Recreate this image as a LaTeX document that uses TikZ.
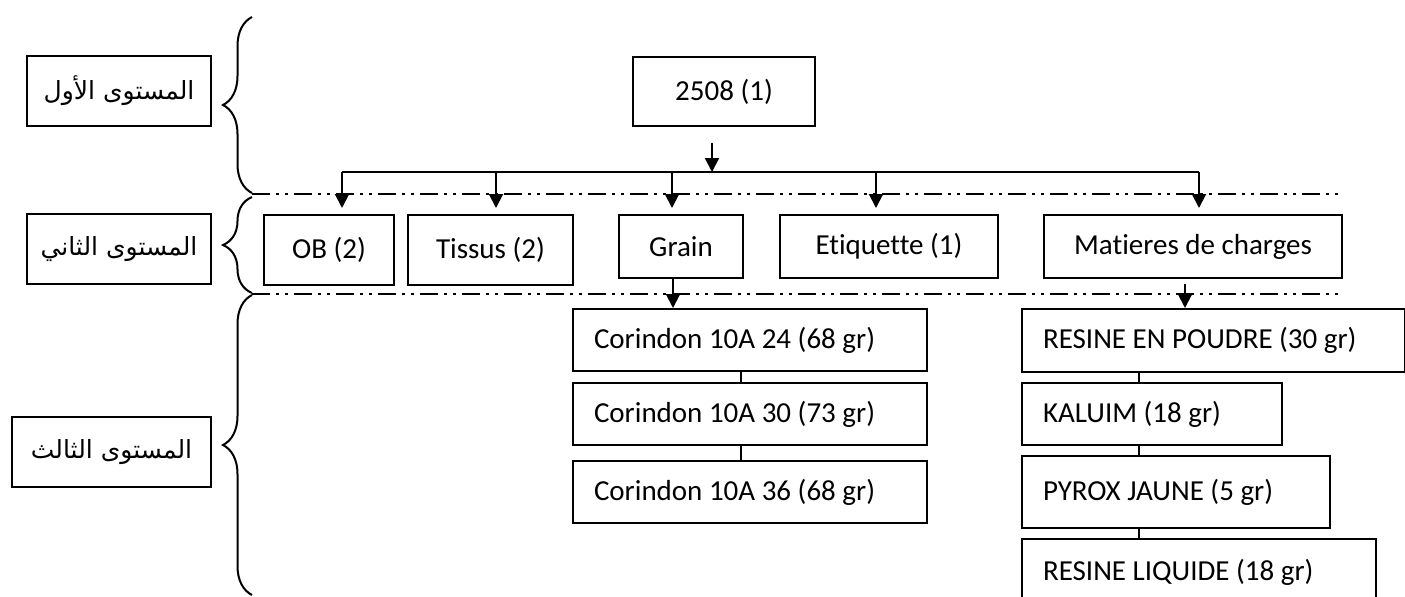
\documentclass[tikz,border=0pt]{standalone}
\usepackage{fontspec}
\setmainfont{Carlito}[Ligatures=NoCommon]
\newfontfamily\arabicfont[Script=Arabic]{DejaVu Sans}
\TeXXeTstate=1
\usetikzlibrary{positioning}
\usetikzlibrary{arrows.meta}
\usetikzlibrary{decorations.pathreplacing}

\begin{document}
\begin{tikzpicture}[
  x=0.5pt, y=-0.5pt,
  font=\fontsize{14.5pt}{17pt}\selectfont,
  box/.style={draw, line width=1pt, inner sep=0pt, align=center},
  stackbox/.style={draw, line width=1pt, inner xsep=10.5pt, inner ysep=0pt, align=flush left, minimum height=31pt},
  level/.style={draw, line width=1pt, inner sep=0pt, minimum height=35pt, font=\arabicfont\fontsize{12.5pt}{14pt}\selectfont},
  arrow/.style={-{Triangle[width=7pt,length=7pt]}, line width=1pt},
  link/.style={line width=0.6pt},
  bracket/.style={decorate, decoration={brace, amplitude=14.5pt}, line width=1pt},
  separator/.style={line width=0.75pt, dash pattern=on 9pt off 3pt on 1.5pt off 3pt on 1.5pt off 3pt}
]
\useasboundingbox (0,0) rectangle (1405,596);

% Levels (left column)
\node[level, minimum width=92pt] (lvl1) at (119,91) {\beginR المستوى الأول\endR};
\node[level, minimum width=92pt] (lvl2) at (119,249) {\beginR المستوى الثاني\endR};
\node[level, minimum width=99.5pt] (lvl3) at (111.5,452) {\beginR المستوى الثالث\endR};

\draw[bracket] (252,193) -- (252,17);
\draw[bracket] (252,293) -- (252,197);
\draw[bracket] (252,595) -- (252,295);

% Level separators
\draw[separator] (252,194) -- (1343,194);
\draw[separator] (252,294) -- (1343,294);

% Top product
\node[box, minimum width=91pt, minimum height=34.5pt] (top) at (724,91.5) {2508 (1)};

% Second level
\node[box, minimum width=65pt, minimum height=35pt, anchor=north west] (ob) at (263,214) {OB (2)};
\node[box, minimum width=82.5pt, minimum height=35pt, right=6pt of ob.north east, anchor=north west] (tissus) {Tissus (2)};
\node[box, minimum width=62pt, minimum height=31.5pt, right=22pt of tissus.north east, anchor=north west] (grain) {Grain};
\node[box, minimum width=109pt, minimum height=31.5pt, right=17.5pt of grain.north east, anchor=north west] (etiq) {Etiquette (1)};
\node[box, minimum width=149pt, minimum height=31.5pt, right=22pt of etiq.north east, anchor=north west] (mat) {Matieres de charges};

% Third level: grain
\node[stackbox, text width=156pt, anchor=north west] (cor1) at (572,308) {Corindon 10A 24 (68 gr)};
\node[stackbox, text width=156pt, below=5pt of cor1] (cor2) {Corindon 10A 30 (73 gr)};
\node[stackbox, text width=156pt, below=7pt of cor2] (cor3) {Corindon 10A 36 (68 gr)};

% Third level: matieres de charges
\node[stackbox, text width=170.5pt, minimum height=31.5pt, anchor=north west] (res1) at (1021,308) {RESINE EN POUDRE (30 gr)};
\node[stackbox, text width=109pt, below=4.5pt of res1.south west, anchor=north west] (res2) {KALUIM (18 gr)};
\node[stackbox, text width=133pt, minimum height=36pt, below=4.5pt of res2.south west, anchor=north west] (res3) {PYROX JAUNE (5 gr)};
\node[stackbox, text width=156pt, minimum height=33pt, below=4.5pt of res3.south west, anchor=north west] (res4) {RESINE LIQUIDE (18 gr)};

% Distribution bus
\coordinate (fork) at (712,172);
\coordinate (b1) at (342,172);
\coordinate (b2) at (496,172);
\coordinate (b3) at (672,172);
\coordinate (b4) at (876,172);
\coordinate (b5) at (1199,172);

\draw[arrow] ([xshift=-6pt, yshift=-8pt]top.south) -- (fork);
\draw[line width=1pt] (b1) -- (b5);
\foreach \b/\n in {b1/ob, b2/tissus, b3/grain, b4/etiq, b5/mat}
  \draw[arrow, shorten >=3pt] (\b) -- (\b |- \n.north);

\draw[arrow] ([xshift=-4pt]grain.south) -- ([xshift=-4pt]grain.south |- cor1.north);
\draw[arrow, shorten <=2.5pt] ([xshift=-4pt]mat.south) -- ([xshift=-4pt]mat.south |- res1.north);

% Stack links
\draw[link] ([xshift=84.5pt]cor1.south west) -- ([xshift=84.5pt]cor2.north west);
\draw[link] ([xshift=84.5pt]cor2.south west) -- ([xshift=84.5pt]cor3.north west);
\draw[link] ([xshift=59pt]res1.south west) -- ([xshift=59pt]res2.north west);
\draw[link] ([xshift=59pt]res2.south west) -- ([xshift=59pt]res3.north west);
\draw[link] ([xshift=59pt]res3.south west) -- ([xshift=59pt]res4.north west);

\end{tikzpicture}
\end{document}
